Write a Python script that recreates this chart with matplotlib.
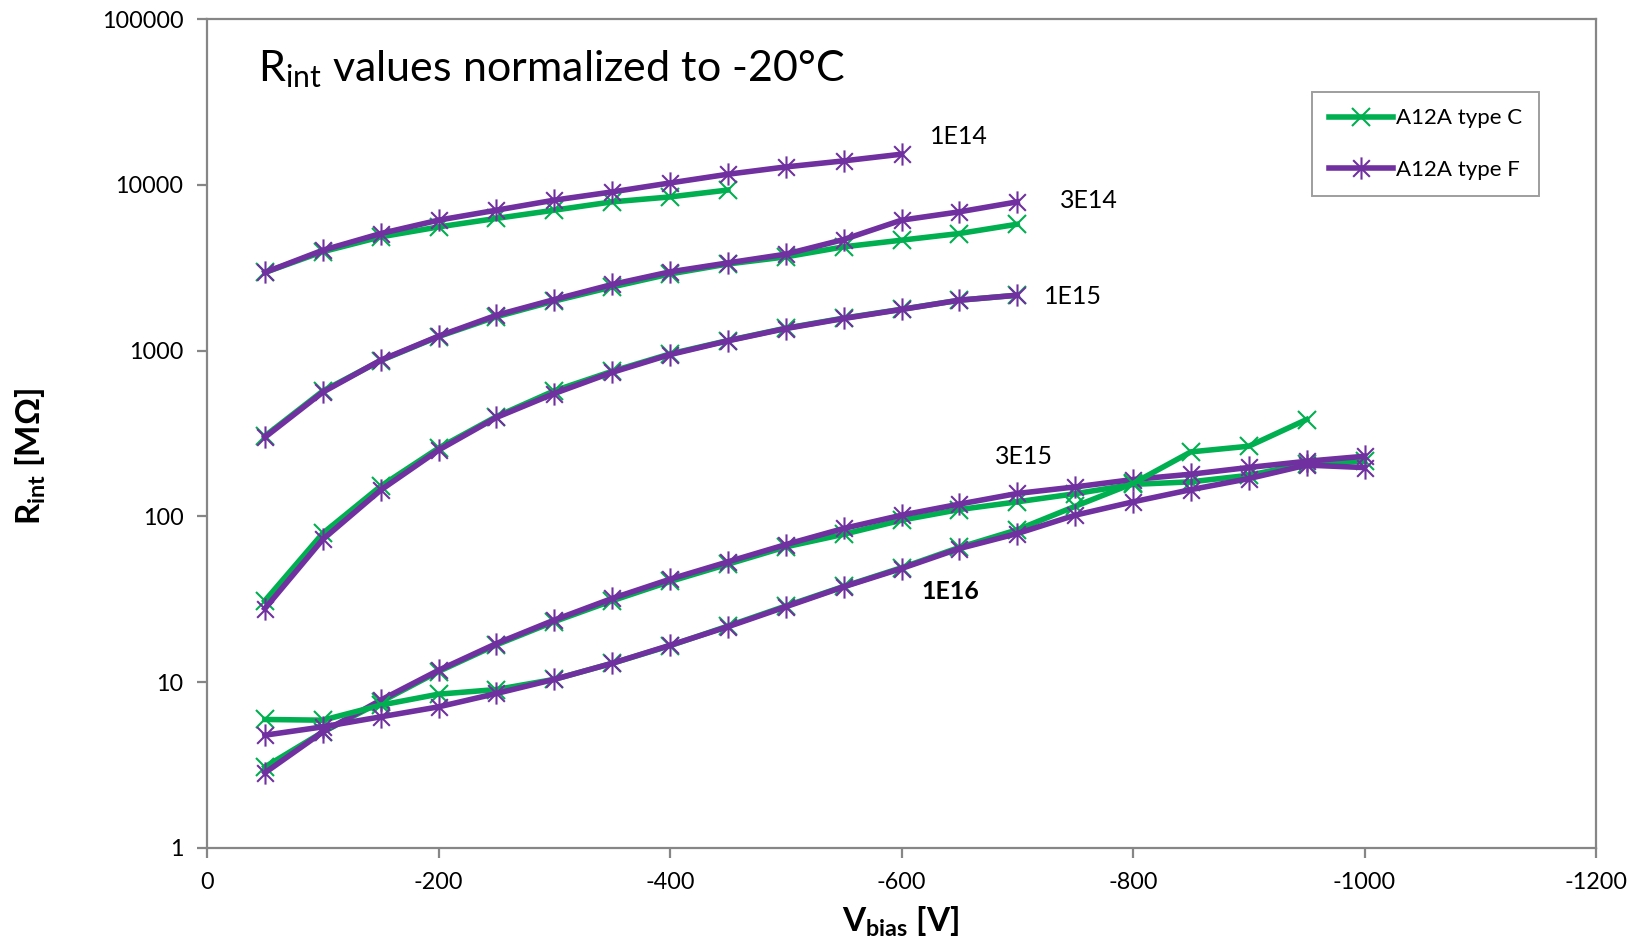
import matplotlib
matplotlib.use("Agg")
import matplotlib.pyplot as plt
from matplotlib.path import Path
from matplotlib.lines import Line2D

plt.rcParams['font.family'] = ['Lato', 'DejaVu Sans']
plt.rcParams['mathtext.fontset'] = 'custom'
plt.rcParams['mathtext.rm'] = 'Lato'
plt.rcParams['mathtext.it'] = 'Lato:italic'
plt.rcParams['mathtext.bf'] = 'Lato:bold'
plt.rcParams['axes.unicode_minus'] = False

# ---------------- data ----------------
bias = [-50, -100, -150, -200, -250, -300, -350, -400, -450, -500,
        -550, -600, -650, -700, -750, -800, -850, -900, -950, -1000]

c_1e14 = [2960, 3950, 4850, 5570, 6270, 7030, 7890, 8450, 9300]
f_1e14 = [2960, 4030, 5080, 6120, 7030, 8080, 9060, 10260, 11580, 12820, 13940, 15300]

c_3e14 = [305, 570, 870, 1215, 1600, 1990, 2420, 2900, 3330, 3675, 4225, 4635, 5084, 5785]
f_3e14 = [300, 561, 875, 1222, 1634, 2032, 2505, 2985, 3380, 3815, 4676, 6120, 6870, 7890]

c_1e15 = [31, 79, 152, 258, 400, 572, 750, 955, 1150, 1365, 1570, 1775, 2014, 2158]
f_1e15 = [27.8, 72.6, 144, 251, 395, 551, 739, 946, 1145, 1358, 1562, 1770, 2014, 2158]

c_3e15 = [3.08, 5.0, 7.6, 11.6, 16.8, 23.2, 31, 40.5, 51.5, 65.5, 78, 94.9, 110, 122.4,
          137, 156, 161.6, 177, 208, 215]
f_3e15 = [2.84, 5.01, 7.79, 11.8, 17.1, 23.7, 32, 41.8, 53.2, 67.6, 84.6, 101.7, 118.6,
          137.5, 150.6, 166.9, 179.7, 197.3, 215, 230.6]

c_1e16 = [5.96, 5.9, 7.27, 8.47, 9.03, 10.4, 13, 16.6, 21.8, 28.8, 37.8, 49, 65, 83,
          115, 158, 245, 265, 384]
f_1e16 = [4.79, 5.38, 6.18, 7.1, 8.55, 10.4, 13, 16.7, 21.6, 28.5, 37.6, 48.5, 64, 78.8,
          101.7, 122.4, 145, 169, 204, 197]

fluence_labels = ["1E14", "3E14", "1E15", "3E15", "1E16"]
label_x = [-650, -762, -748, -706, -642]
label_y = [19600, 8050, 2128, 231, 35.4]
label_bold = [False, False, False, False, True]

series_names = ["A12A type C", "A12A type F"]
x_ticks = [0, -200, -400, -600, -800, -1000, -1200]
y_ticks = [1, 10, 100, 1000, 10000, 100000]

# ---------------- style ----------------
GREEN = "#00B050"
PURPLE = "#7030A0"
GRAY = "#868686"

star_path = Path([(-0.75, -0.75), (0.75, 0.75), (-0.75, 0.75), (0.75, -0.75), (0, -1), (0, 1)],
                 [Path.MOVETO, Path.LINETO, Path.MOVETO, Path.LINETO, Path.MOVETO, Path.LINETO])

fig = plt.figure(figsize=(16.39, 9.44), dpi=100)
ax = fig.add_axes([207 / 1639, 1 - 848 / 944, 1389 / 1639, 829 / 944])

c_kw = dict(color=GREEN, lw=4.0, marker='x', ms=13, mew=1.5, mec=GREEN, zorder=3)
f_kw = dict(color=PURPLE, lw=4.0, marker=star_path, ms=16, mew=1.5, mec=PURPLE, zorder=3)

pairs = [(c_1e14, f_1e14), (c_3e14, f_3e14), (c_1e15, f_1e15), (c_3e15, f_3e15), (c_1e16, f_1e16)]
for c, f in pairs:
    ax.plot(bias[:len(c)], c, **c_kw)
    ax.plot(bias[:len(f)], f, **f_kw)

ax.set_yscale('log')
ax.set_ylim(1, 100000)
ax.set_xlim(0, -1200)
ax.set_yticks(y_ticks)
ax.set_yticklabels([str(v) for v in y_ticks])
ax.yaxis.set_minor_locator(matplotlib.ticker.NullLocator())
ax.set_xticks(x_ticks)
ax.set_xticklabels([str(v) for v in x_ticks])

for s in ax.spines.values():
    s.set_color(GRAY)
    s.set_linewidth(1.6)
ax.tick_params(axis='both', which='major', direction='out', length=7, width=1.6,
               color=GRAY, labelsize=16.8, labelcolor='black')
ax.tick_params(axis='y', pad=10)
ax.tick_params(axis='x', pad=10)

ax.set_xlabel(r"V$_{\mathbf{bias}}$ [V]", fontsize=24, fontweight='bold')
ax.xaxis.set_label_coords(0.4996, -0.089)
ax.set_ylabel(r"R$_{\mathbf{int}}$ [MΩ]", fontsize=24, fontweight='bold')
ax.yaxis.set_label_coords(-0.127, 0.473)
ax.xaxis.label.set_va('center')
ax.yaxis.label.set_va('center')

ax.text(0.037, 0.94, r"R$_{\mathrm{int}}$ values normalized to -20°C", transform=ax.transAxes,
        fontsize=31, ha='left', va='center')

for lab, lx, ly, b in zip(fluence_labels, label_x, label_y, label_bold):
    ax.text(lx, ly, lab, fontsize=18, ha='center', va='center',
            fontweight='bold' if b else 'normal')

handles = [Line2D([], [], **{k: v for k, v in c_kw.items() if k != 'zorder'}),
           Line2D([], [], **{k: v for k, v in f_kw.items() if k != 'zorder'})]
leg = ax.legend(handles, series_names, loc='upper right', bbox_to_anchor=(0.959, 0.912),
                fontsize=16, frameon=True, fancybox=False, edgecolor=GRAY,
                handlelength=2.9, handletextpad=0.15, labelspacing=1.42,
                borderpad=0.74, borderaxespad=0)
leg.get_frame().set_linewidth(1.4)

fig.savefig("out.png", dpi=100, facecolor='white')
